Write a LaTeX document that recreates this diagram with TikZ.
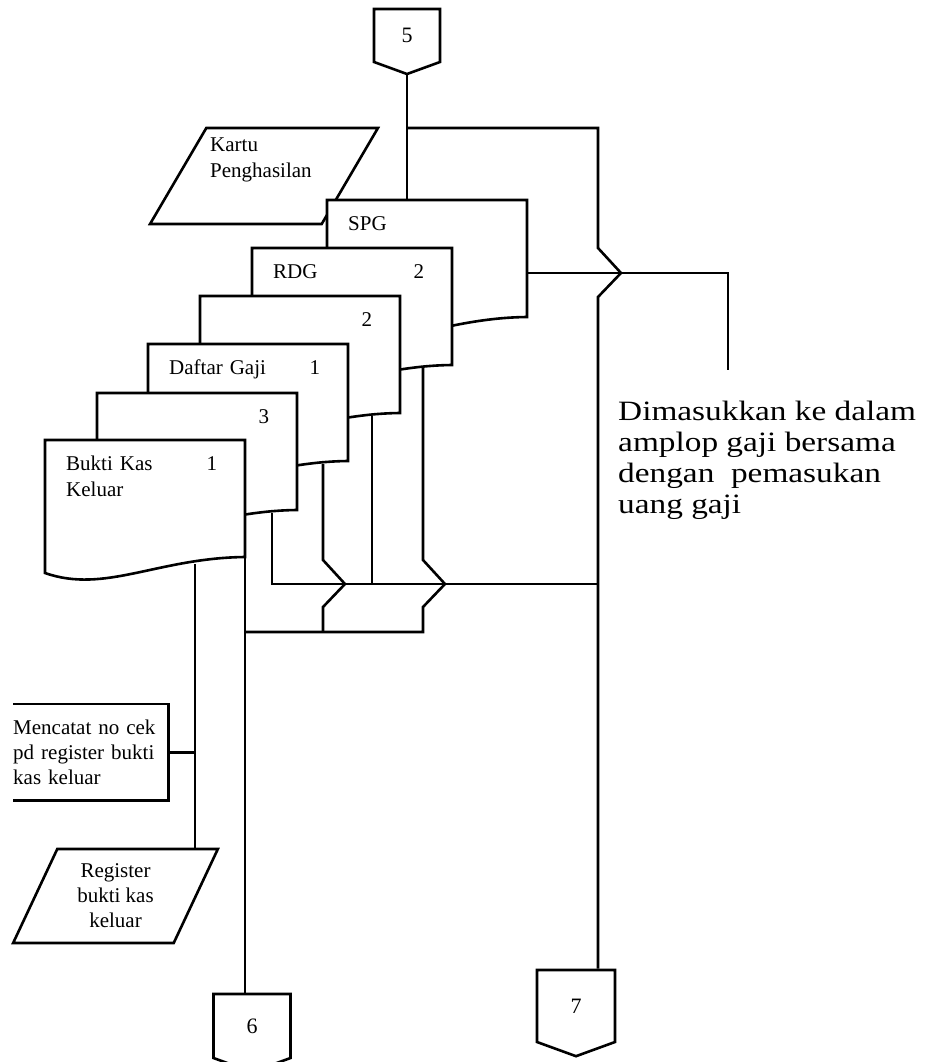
\documentclass[tikz,border=0pt]{standalone}
\usepackage{fontspec}
\setmainfont{Liberation Serif}
\newfontfamily\notefont[FakeStretch=1.19]{Liberation Serif}
\usetikzlibrary{positioning,shapes.geometric,shapes.symbols}

\begin{document}
\begin{tikzpicture}[
  x=1pt, y=-1pt,
  line/.style={line width=2.6pt},
  docline/.style={line, draw, fill=white},
  doc/.style={anchor=north west, text width=151pt, inner xsep=21pt, inner ysep=16pt, align=left, font=\fontsize{21}{26}\selectfont},
  data/.style={line, draw, fill=white, trapezium, trapezium stretches=true, align=center, font=\fontsize{21}{25}\selectfont},
  proc/.style={anchor=north west, text width=155pt, inner xsep=0pt, minimum height=96pt, align=left, font=\fontsize{21}{25}\selectfont},
  conn/.style={line, draw, fill=white, signal, signal to=south, signal pointer angle=140, inner sep=0pt, font=\fontsize{22}{24}\selectfont},
  note/.style={anchor=north west, inner sep=0pt, align=left, font=\notefont\fontsize{28}{31}\selectfont}
]
\useasboundingbox (0,0) rectangle (936,1062);

% off-page connectors
\node[conn, minimum width=66pt, minimum height=55pt] (c5) at (407,35.5) {5};
\node[conn, minimum width=77pt, minimum height=66pt] (c6) at (252,1026) {6};
\node[conn, minimum width=78pt, minimum height=74pt] (c7) at (576,1006) {7};

% input card, partly behind the documents
\node[data, minimum width=228pt, minimum height=96pt, trapezium left angle=64, trapezium right angle=116] (kartu) at (264,176) {};
\node[anchor=north west, align=left, inner sep=0pt, font=\fontsize{21}{26}\selectfont] (kartutxt) at (210,138) {Kartu\\Penghasilan};

% document stack, back to front
\foreach \n/\x/\y/\t in {spg/327/200/{SPG}, rdg/252/248/{RDG\hfill 2}, dua/200/296/{\mbox{}\hfill 2},
    dg/148/344/{Daftar Gaji\hfill 1}, tiga/97/393/{\mbox{}\hfill 3}, bkk/45/440/{Bukti Kas\hfill 1\\Keluar}} {
  \draw[docline] (\x,\y) -- ++(200,0) -- ++(0,117) .. controls +(-88,1) and +(60,21) .. ++(-200,16) -- cycle;
  \node[doc] (\n) at (\x,\y) {\t};
}

\node[proc] (proc) at (13,704) {Mencatat no cek\\pd register bukti\\kas keluar};
\node[data, minimum width=205pt, minimum height=94pt, trapezium left angle=66, trapezium right angle=114] (reg) at (115.5,896) {Register\\bukti kas\\keluar};
\node[note] (note) at (618,401) {Dimasukkan ke dalam\\amplop gaji bersama\\dengan\ \ pemasukan\\uang gaji};

% outlets and junctions
\coordinate (split) at (407,128);
\coordinate (spg out) at ([shift={(200,73)}]spg.north west);
\coordinate (rdg out) at ([shift={(171,120)}]rdg.north west);
\coordinate (dua out) at ([shift={(172,120)}]dua.north west);
\coordinate (dg out) at ([shift={(175,120)}]dg.north west);
\coordinate (tiga out) at ([shift={(175,120)}]tiga.north west);
\coordinate (bkk out) at ([shift={(150,124)}]bkk.north west);
\coordinate (bkk corner) at ([shift={(200,117)}]bkk.north west);
\coordinate (br1) at (598,273);
\coordinate (br2) at (323,584);
\coordinate (br3) at (423,584);
\coordinate (j7) at (598,584);
\coordinate (j6) at (245,632);
\coordinate (note end) at (728,370);

\draw[line] (proc.north west) -- (proc.north east) -- (proc.south east) -- (proc.south west);

\draw[line] (c5.south) -- (c5.south |- spg.north);
\draw[line] (split) -| ([yshift=25pt]br1) -- ([xshift=23pt]br1) -- ([yshift=-24pt]br1) -- (br1 |- c7.north);
\draw[line] (spg out) -| (note end);
\draw[line] (tiga out) |- (j7);
\draw[line] (dua out) -- (dua out |- j7);
\draw[line] (dg out) -- ([yshift=24pt]br2) -- ([xshift=22pt]br2) -- ([yshift=-23pt]br2) -- (br2 |- j6);
\draw[line] (rdg out) -- ([yshift=24pt]br3) -- ([xshift=22pt]br3) -- ([yshift=-23pt]br3) -- (br3 |- j6) -- (j6);
\draw[line] (bkk corner) -- (bkk corner |- c6.north);
\draw[line] (bkk out) -- (bkk out |- reg.north);
\draw[line] (proc.east) -- (proc.east -| bkk out);
\end{tikzpicture}
\end{document}
